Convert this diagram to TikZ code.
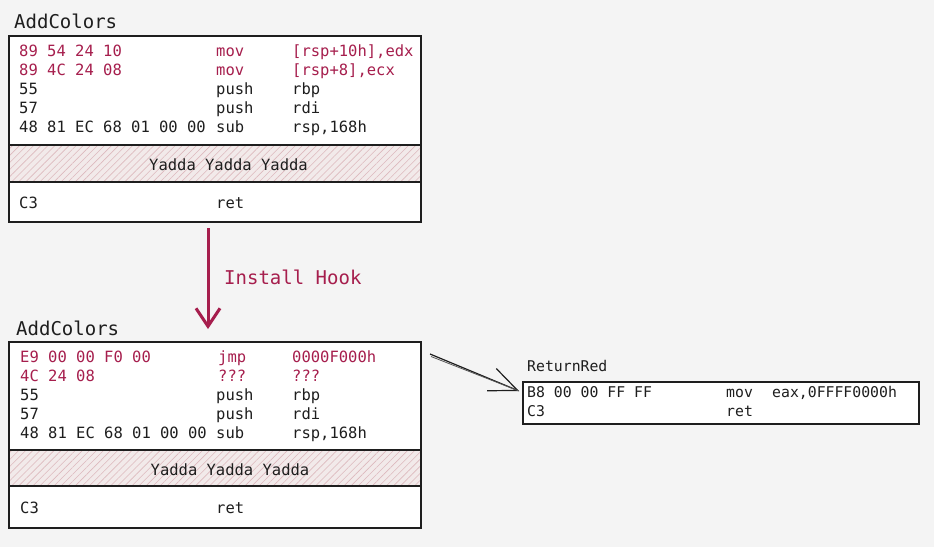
\documentclass[tikz,border=0pt]{standalone}
\usepackage{fontspec}
\setmonofont{DejaVu Sans Mono}
\usetikzlibrary{arrows.meta,patterns.meta}
\definecolor{bgc}{HTML}{F4F4F4}
\definecolor{crim}{HTML}{A61E4D}
\definecolor{hatchbg}{HTML}{F2EAEA}
\definecolor{hatchln}{HTML}{DDB9BD}
\definecolor{ink}{HTML}{1E1E1E}
\tikzset{
  box/.style={draw=ink, line width=1.3pt, fill=white, rectangle, inner sep=0pt, outer sep=0pt, anchor=north west},
  hatchbox/.style={draw=ink, line width=1.3pt, rectangle, inner sep=0pt, outer sep=0pt, anchor=north west,
     preaction={fill=hatchbg}, pattern={Lines[angle=45,distance=5pt,line width=0.6pt]}, pattern color=hatchln},
  code/.style={font=\ttfamily\fontsize{15.5}{18}\selectfont, text=ink, anchor=base west, inner sep=0pt},
  rcode/.style={code, text=crim},
  small/.style={font=\ttfamily\fontsize{14.8}{17}\selectfont, text=ink, anchor=base west, inner sep=0pt},
  title/.style={font=\ttfamily\fontsize{19}{22}\selectfont, text=ink, anchor=base west, inner sep=0pt},
}
\begin{document}
\begin{tikzpicture}[x=1pt,y=-1pt]
\useasboundingbox[fill=bgc] (0,0) rectangle (934,547);
% ---------- top block
\node[title] (t1) at (14,28) {AddColors};
\node[box, minimum width=412pt, minimum height=109pt] (a1) at (9,36) {};
\node[hatchbox, minimum width=412pt, minimum height=37pt] (h1) at (9,145) {};
\node[box, minimum width=412pt, minimum height=40pt] (c1) at (9,182) {};
\node[rcode] (a1b1) at (19,56) {89 54 24 10};
\node[rcode] (a1m1) at (216,56) {mov};
\node[rcode] (a1o1) at (292,56) {[rsp+10h],edx};
\node[rcode] (a1b2) at (19,75) {89 4C 24 08};
\node[rcode] (a1m2) at (216,75) {mov};
\node[rcode] (a1o2) at (292,75) {[rsp+8],ecx};
\node[code] (a1b3) at (19,94) {55};
\node[code] (a1m3) at (216,94) {push};
\node[code] (a1o3) at (292,94) {rbp};
\node[code] (a1b4) at (19,113) {57};
\node[code] (a1m4) at (216,113) {push};
\node[code] (a1o4) at (292,113) {rdi};
\node[code] (a1b5) at (19,132) {48 81 EC 68 01 00 00};
\node[code] (a1m5) at (216,132) {sub};
\node[code] (a1o5) at (292,132) {rsp,168h};
\node[code, anchor=center] (y1) at (228.5,165) {Yadda Yadda Yadda};
\node[code] (c1b) at (19,208) {C3};
\node[code] (c1m) at (216,208) {ret};
% ---------- hook arrow
\coordinate (hs) at (208,228);
\coordinate (he) at (208,329);
\draw[crim, line width=3pt, -{Straight Barb[length=18pt,width=24pt,line width=3pt]}] (hs) -- (he);
\node[title, text=crim] (hook) at (224,284) {Install Hook};
% ---------- bottom block
\node[title] (t2) at (16,335) {AddColors};
\node[box, minimum width=412pt, minimum height=108pt] (a2) at (9,342) {};
\node[hatchbox, minimum width=412pt, minimum height=36pt] (h2) at (9,450) {};
\node[box, minimum width=412pt, minimum height=42pt] (c2) at (9,486) {};
\node[rcode] (a2b1) at (20,362) {E9 00 00 F0 00};
\node[rcode] (a2m1) at (218,362) {jmp};
\node[rcode] (a2o1) at (292,362) {0000F000h};
\node[rcode] (a2b2) at (20,381) {4C 24 08};
\node[rcode] (a2m2) at (218,381) {???};
\node[rcode] (a2o2) at (292,381) {???};
\node[code] (a2b3) at (20,400) {55};
\node[code] (a2m3) at (216,400) {push};
\node[code] (a2o3) at (292,400) {rbp};
\node[code] (a2b4) at (20,419) {57};
\node[code] (a2m4) at (216,419) {push};
\node[code] (a2o4) at (292,419) {rdi};
\node[code] (a2b5) at (20,438) {48 81 EC 68 01 00 00};
\node[code] (a2m5) at (216,438) {sub};
\node[code] (a2o5) at (292,438) {rsp,168h};
\node[code, anchor=center] (y2) at (230,470) {Yadda Yadda Yadda};
\node[code] (c2b) at (20,513) {C3};
\node[code] (c2m) at (216,513) {ret};
% ---------- ReturnRed
\node[small] (t3) at (527,371) {ReturnRed};
\node[box, minimum width=396pt, minimum height=42pt] (r) at (523,382) {};
\node[small] (rb1) at (527,397) {B8 00 00 FF FF};
\node[small] (rm1) at (726,397) {mov};
\node[small] (ro1) at (772,397) {eax,0FFFF0000h};
\node[small] (rb2) at (527,416) {C3};
\node[small] (rm2) at (726,416) {ret};
% ---------- jump arrow
\coordinate (js) at (430,354);
\coordinate (js2) at (431,356.5);
\coordinate (je) at (519,391);
\draw[ink, line width=1.2pt, -{Straight Barb[length=28pt,width=24pt,line width=1.2pt]}] (js) -- (je);
\draw[ink!75, line width=0.8pt] (js2) -- (je);
\end{tikzpicture}
\end{document}
